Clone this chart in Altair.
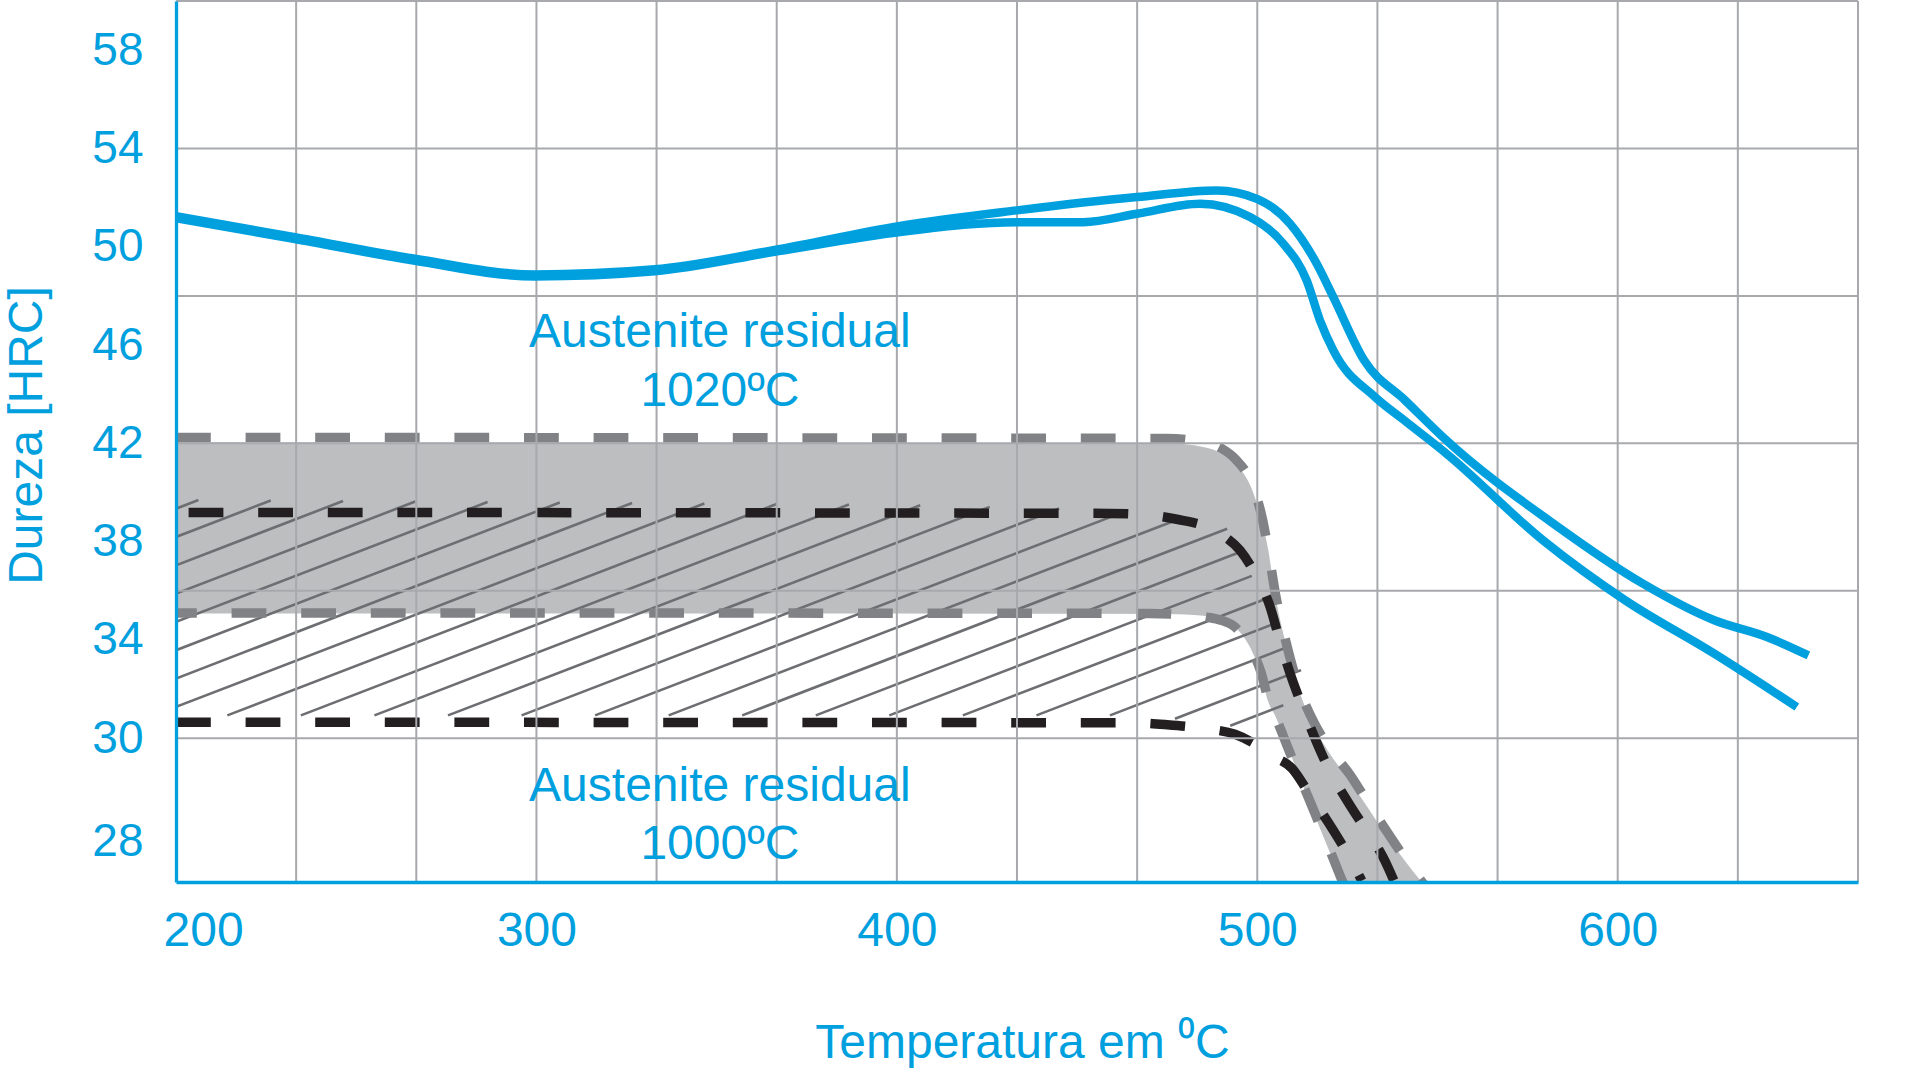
import altair as alt
import pandas as pd

BLUE = "#00A0DF"
GRID = "#A7A9AC"
BAND = "#BCBEC0"
GRAY_DASH = "#808285"
BLACK_DASH = "#231F20"
HATCH = "#6D6E71"
FONT = "Liberation Sans"

# ---------------- axes / grid ----------------
x_domain = [200, 666.67]
y_domain = [24.15, 60]
x_tick_values = [200, 300, 400, 500, 600]
y_tick_values = [58, 54, 50, 46, 42, 38, 34, 30, 25.8]
y_tick_labels = ["58", "54", "50", "46", "42", "38", "34", "30", "28"]
x_grid = [233.33, 266.67, 300, 333.33, 366.67, 400, 433.33, 466.67,
          500, 533.33, 566.67, 600, 633.33, 666.67]
y_grid = [30, 36, 42, 48, 54, 60]

# ---------------- blue hardness curves ----------------
blue_a_x = [200, 233, 266.3, 299.6, 332.8, 366.8, 400.9, 433.3, 466.6, 488.8, 499.9,
            509.1, 516.5, 521.1, 529.7, 541.1, 552.5, 582.2, 607.0, 626.8, 641.4, 652.9]
blue_a_y = [51.24, 50.39, 49.51, 48.87, 49.08, 49.89, 50.85, 51.48, 52.02, 52.29, 51.95,
            50.94, 49.31, 47.95, 45.37, 43.74, 42.12, 38.73, 36.29, 34.8, 34.12, 33.37]
blue_b_x = [200, 233, 266.3, 299.6, 332.8, 366.8, 400.9, 433.3, 451.8, 466.6, 484.1,
            498.0, 507.2, 513.7, 517.4, 521.1, 532.7, 541.1, 552.5, 579.3, 602.1, 626.8, 649.7]
blue_b_y = [51.16, 50.31, 49.43, 48.79, 49.0, 49.81, 50.6, 51.0, 51.0, 51.34, 51.75,
            51.21, 50.13, 48.63, 47.0, 45.78, 43.88, 42.9, 41.58, 38.05, 35.61, 33.44, 31.27]

# ---------------- gray band (residual austenite 1020) ----------------
band_x = [200, 475, 485, 490, 494, 498, 501, 503, 505, 508, 511, 515, 520, 526, 531, 536, 541, 547]
band_top = [42.04, 42.0, 41.85, 41.6, 41.15, 40.3, 39.0, 37.7, 35.8, 33.8, 32.2, 30.7, 29.4,
            28.2, 27.1, 26.0, 25.0, 23.9]
band_bottom = [35.08, 35.06, 34.98, 34.82, 34.5, 33.7, 32.6, 31.5, 30.9, 29.8, 28.7, 27.2,
               25.4, 23.3, 23.0, 23.0, 23.0, 23.0]

gray_top_x = [200, 475, 485, 490, 494, 498, 501.3, 503, 505, 508, 511, 515, 520, 525.8,
              531, 536.3, 541, 546.5]
gray_top_y = [42.24, 42.2, 42.05, 41.8, 41.35, 40.5, 39.0, 37.7, 35.9, 33.9, 32.3, 30.85,
              29.6, 28.5, 27.3, 26.13, 25.1, 24.0]
gray_bot_x = [200, 470, 480, 486, 490, 494, 498, 501, 503, 505, 508, 511, 515, 520, 523, 526]
gray_bot_y = [35.1, 35.08, 35.02, 34.93, 34.8, 34.5, 33.7, 32.7, 31.6, 30.9, 29.8, 28.7,
              27.3, 25.5, 24.4, 23.4]

# ---------------- black dashed (residual austenite 1000) ----------------
black_top_x = [200, 459, 470, 478, 486, 491, 495.2, 499, 503.6, 506, 509.1, 513, 516.6,
               520, 524.9, 530, 534.9, 538.5]
black_top_y = [39.19, 39.15, 39.08, 38.9, 38.6, 38.2, 37.65, 36.8, 35.33, 34.1, 32.64,
               31.1, 29.79, 28.7, 27.47, 26.3, 25.16, 24.0]
black_bot_x = [200, 465, 475, 485, 493.8, 499, 504, 509.6, 515, 520.2, 525, 529]
black_bot_y = [30.65, 30.63, 30.55, 30.4, 30.16, 29.8, 29.3, 28.78, 27.6, 26.46, 25.3, 24.2]

# hatch pattern region and texture
hatch_poly = [(200, 39.7), (400, 39.5), (460, 39.3), (474, 39.07), (491.6, 38.54),
              (515.5, 31.83), (493, 30.5), (470, 30.93), (200, 30.93)]
hatch_slope = 0.05645
hatch_c0 = 38.19
hatch_step = 1.152

# ---------------- annotations ----------------
ann_x = [350.9, 350.9, 350.9, 350.9]
ann_y = [45.92, 43.53, 27.44, 25.1]
ann_text = ["Austenite residual", "1020ºC", "Austenite residual", "1000ºC"]

# ---------------- build tables ----------------
blue_df = pd.DataFrame(
    {"x": blue_a_x + blue_b_x, "y": blue_a_y + blue_b_y,
     "s": ["a"] * len(blue_a_x) + ["b"] * len(blue_b_x)})
band_df = pd.DataFrame({"x": band_x, "top": band_top, "bottom": band_bottom})


def line_df(xs, ys):
    return pd.DataFrame({"x": xs, "y": ys})


segs = []
n = len(hatch_poly)
for k in range(-3, 26):
    c = hatch_c0 - hatch_step * k
    xs = []
    for i in range(n):
        (x1, y1), (x2, y2) = hatch_poly[i], hatch_poly[(i + 1) % n]
        f1 = y1 - c - hatch_slope * (x1 - 200)
        f2 = y2 - c - hatch_slope * (x2 - 200)
        if f1 == f2:
            continue
        if (f1 <= 0 < f2) or (f2 <= 0 < f1):
            t = f1 / (f1 - f2)
            xs.append(x1 + t * (x2 - x1))
    xs.sort()
    for j in range(0, len(xs) - 1, 2):
        xa, xb = xs[j], xs[j + 1]
        segs.append({"x": xa, "y": c + hatch_slope * (xa - 200),
                     "x2": xb, "y2": c + hatch_slope * (xb - 200)})
hatch_df = pd.DataFrame(segs)

ann_df = pd.DataFrame({"x": ann_x, "y": ann_y, "t": ann_text})

# ---------------- scales / axes ----------------
xs_ = alt.Scale(domain=x_domain, nice=False, zero=False)
ys_ = alt.Scale(domain=y_domain, nice=False, zero=False)

label_expr = "datum.label"
for v, t in zip(y_tick_values, y_tick_labels):
    if str(v) != t:
        label_expr = f"datum.value == {v} ? '{t}' : ({label_expr})"

x_axis = alt.Axis(values=x_tick_values, format="d", grid=False, ticks=False, tickSize=0,
                  domainColor=BLUE, domainWidth=3.3, labelColor=BLUE, labelFont=FONT,
                  labelFontSize=48, labelPadding=25, labelFlush=True, labelFlushOffset=13,
                  labelOverlap=False, title="Temperatura em ⁰C", titleColor=BLUE,
                  titleFont=FONT, titleFontSize=48, titleFontWeight="normal",
                  titleBaseline="alphabetic", titleAlign="center", titleX=846, titleY=175,
                  zindex=1)
y_axis = alt.Axis(values=y_tick_values, labelExpr=label_expr, grid=False, ticks=False,
                  tickSize=0, domainColor=BLUE, domainWidth=3.3, labelColor=BLUE,
                  labelFont=FONT, labelFontSize=46, labelPadding=33, labelOverlap=False,
                  labelBaseline="middle", title="Dureza [HRC]", titleColor=BLUE,
                  titleFont=FONT, titleFontSize=48, titleFontWeight="normal",
                  titleAngle=270, titleBaseline="alphabetic", titleAlign="center",
                  titleX=-135, titleY=434, zindex=1)


def X(f):
    return alt.X(f, type="quantitative", scale=xs_, axis=x_axis)


def Y(f):
    return alt.Y(f, type="quantitative", scale=ys_, axis=y_axis)


band = alt.Chart(band_df).mark_area(color=BAND, clip=True, interpolate="monotone").encode(
    x=X("x"), y=Y("top"), y2="bottom:Q")

hatch = alt.Chart(hatch_df).mark_rule(color=HATCH, strokeWidth=2.6, clip=True).encode(
    x=X("x"), y=Y("y"), x2="x2:Q", y2="y2:Q")


def dashed(xs, ys, color, offset):
    return alt.Chart(line_df(xs, ys)).mark_line(
        color=color, strokeWidth=9.5, strokeDash=[34.8, 34.8], strokeDashOffset=offset,
        strokeCap="butt", interpolate="monotone", clip=True).encode(x=X("x"), y=Y("y"))


gtop = dashed(gray_top_x, gray_top_y, GRAY_DASH, 0)
gbot = dashed(gray_bot_x, gray_bot_y, GRAY_DASH, 14)
btop = dashed(black_top_x, black_top_y, BLACK_DASH, 57)
bbot = dashed(black_bot_x, black_bot_y, BLACK_DASH, 0)

vgrid = alt.Chart(pd.DataFrame({"x": x_grid})).mark_rule(color=GRID, strokeWidth=2).encode(
    x=X("x"))
hgrid = alt.Chart(pd.DataFrame({"y": y_grid})).mark_rule(color=GRID, strokeWidth=2).encode(
    y=Y("y"))

blue = alt.Chart(blue_df).mark_line(color=BLUE, strokeWidth=8.5, strokeCap="butt",
                                    interpolate="monotone", clip=True).encode(
    x=X("x"), y=Y("y"), detail="s:N")

ann = alt.Chart(ann_df).mark_text(font=FONT, fontSize=48, color=BLUE, align="center",
                                  baseline="alphabetic").encode(x=X("x"), y=Y("y"), text="t:N")

chart = alt.layer(band, hatch, gtop, gbot, btop, bbot, vgrid, hgrid, blue, ann).properties(
    width=1682, height=881,
    padding={"left": 176, "top": 1, "right": 62, "bottom": 194},
    autosize=alt.AutoSizeParams(type="none"),
    background="white",
).configure_view(stroke=None)

chart.save("out.html", embed_options={"renderer": "svg", "actions": False})
